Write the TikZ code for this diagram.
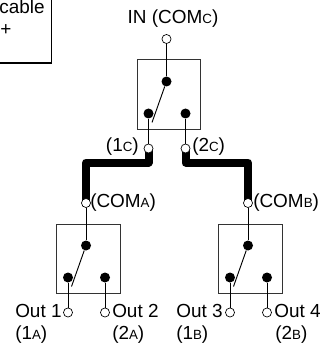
\documentclass[tikz,border=0pt]{standalone}
\usepackage{fontspec}
\setmainfont{Liberation Sans}
\usepackage{xcolor}
\usetikzlibrary{calc,backgrounds}
\newcommand{\lowc}[1]{{\fontsize{10pt}{10pt}\selectfont #1}}
\tikzset{
  base/.style={draw=black, line width=0.7pt},
  swbox/.style={draw=black!80, line width=0.7pt, minimum width=47.5pt, minimum height=51.8pt, inner sep=0pt},
  cable/.style={draw=black, line width=6pt, line join=round},
  pin/.style={circle, draw=black, fill=white, line width=0.5pt, minimum size=6.8pt, inner sep=0pt},
  dot/.style={circle, fill=black, minimum size=7.5pt, inner sep=0pt},
  lab/.style={text=black, font=\fontsize{14.2pt}{15pt}\selectfont, inner sep=0pt},
}

\begin{document}
\begin{tikzpicture}[x=0.75pt,y=-0.75pt]
  \useasboundingbox (0,0) rectangle (321,345);
  \clip (0,0) rectangle (321,345);
  % note box, cut off by the page
  \draw[draw=black, line width=0.8pt] (-60,-40) rectangle (51.5,63);
  \node[lab, anchor=base east] (notea) at (45,13.5) {cable};
  \node[lab, anchor=base west] (noteb) at (0,36) {+};
  % three switches
  \foreach \n/\x/\y in {C/169/94.5,A/88.5/258.5,B/250.5/258.5}{
    \node[swbox] (box\n) at (\x,\y) {};
    \node[dot] (pole\n) at ($(\x,\y)+(-2.5,-13)$) {};
    \node[dot] (left\n) at ($(\x,\y)+(-20.5,19)$) {};
    \node[dot] (right\n) at ($(\x,\y)+(16.5,19)$) {};
    \node[pin] (outl\n) at ($(\x,\y)+(-20.5,54)$) {};
    \node[pin] (outr\n) at ($(\x,\y)+(16.5,54)$) {};
    \node[pin] (in\n) at ($(\x,\y)+(-2.5,-55.5)$) {};
    \coordinate (tip\n) at ($(\x,\y)+(-17,28)$);
    \draw[base] (in\n) -- (pole\n);
    \draw[base] (pole\n) -- (tip\n);
    \draw[base] (left\n) -- (outl\n);
    \draw[base] (right\n) -- (outr\n);
  }
  % cables go under the pins
  \begin{scope}[on background layer]
    \coordinate (bendl) at (outlC |- 0,162.5);
    \coordinate (bendr) at (outrC |- 0,162.5);
    \draw[cable] (outlC.center) -- (bendl) -- (bendl -| inA) -- (inA.center);
    \draw[cable] (outrC.center) -- (bendr) -- (bendr -| inB) -- (inB.center);
  \end{scope}
  \node[lab] (lbin) at (173,19) {IN (COM\lowc{C})};
  \node[lab, anchor=east] (lb1c) at (139,147) {(1\lowc{C})};
  \node[lab, anchor=west] (lb2c) at (192,147) {(2\lowc{C})};
  \node[lab, anchor=west] (lbcoma) at (90,203) {(COM\lowc{A})};
  \node[lab, anchor=west] (lbcomb) at (253,203) {(COM\lowc{B})};
  \node[lab, anchor=west] (lbout1) at (15,311) {Out 1};
  \node[lab, anchor=west] (lbout2) at (112,311) {Out 2};
  \node[lab, anchor=west] (lbout3) at (176,311) {Out 3};
  \node[lab, anchor=west] (lbout4) at (274,311) {Out 4};
  \node[lab, anchor=west] (lb1a) at (15,335) {(1\lowc{A})};
  \node[lab, anchor=west] (lb2a) at (112,335) {(2\lowc{A})};
  \node[lab, anchor=west] (lb1b) at (176,335) {(1\lowc{B})};
  \node[lab, anchor=west] (lb2b) at (275,335) {(2\lowc{B})};
\end{tikzpicture}
\end{document}
